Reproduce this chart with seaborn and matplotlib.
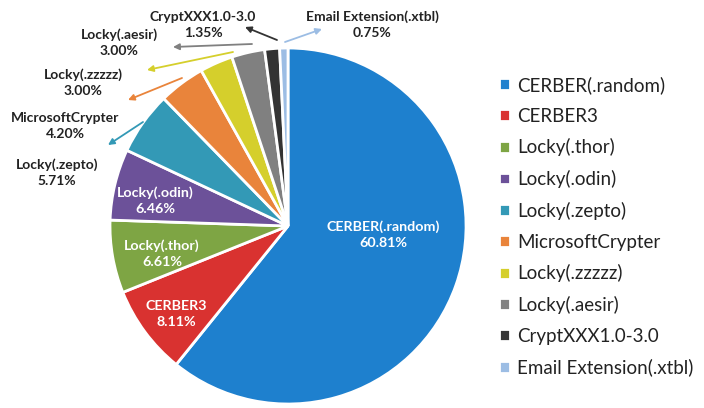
import matplotlib
matplotlib.use("Agg")
import matplotlib.pyplot as plt
import seaborn as sns

# ---- data ----
categories = ["CERBER(.random)", "CERBER3", "Locky(.thor)", "Locky(.odin)", "Locky(.zepto)",
              "MicrosoftCrypter", "Locky(.zzzzz)", "Locky(.aesir)", "CryptXXX1.0-3.0",
              "Email Extension(.xtbl)"]
values = [60.81, 8.11, 6.61, 6.46, 5.71, 4.20, 3.00, 3.00, 1.35, 0.75]
pct_labels = ["60.81%", "8.11%", "6.61%", "6.46%", "5.71%", "4.20%", "3.00%", "3.00%", "1.35%", "0.75%"]
colors = ["#1E80CE", "#D93230", "#7EA544", "#6C5199", "#3399B6",
          "#E9843B", "#D5CF2C", "#808080", "#333333", "#9CBDE4"]

sns.set_style("white")
plt.rcParams['font.family'] = ['Lato', 'DejaVu Sans']
palette = sns.color_palette(colors)

W, H = 704, 408
fig = plt.figure(figsize=(W / 100, H / 100), dpi=100)
ax = fig.add_axes([0, 0, 1, 1])

cx, cy, R = 288, H - 226, 178
explode = [9 / R] + [0] * (len(values) - 1)
wedges, _ = ax.pie(values, colors=palette, startangle=90, counterclock=False,
                   center=(cx, cy), radius=R, explode=explode,
                   wedgeprops=dict(edgecolor="white", linewidth=2))
ax.set_xlim(0, W)
ax.set_ylim(0, H)
ax.set_aspect("equal")
ax.axis("off")

def py(y):
    return H - y

# inner labels (white, bold)
inner_pos = {0: (383, 235), 1: (176, 314), 2: (162, 254), 3: (155, 201)}
for i, (x, y) in inner_pos.items():
    ax.text(x, py(y), f"{categories[i]}\n{pct_labels[i]}", ha="center", va="center",
            color="white", fontsize=10.3, fontweight="bold", linespacing=1.4)

# outside labels with arrows: (label centre, arrow tail, arrow head)
outside = {
    4: ((57, 173), (143, 122), (108, 145)),
    5: ((65, 126), (182, 78), (128, 100)),
    6: ((83, 83), (233, 52), (147, 70)),
    7: ((119, 43), (252, 44), (173, 47)),
    8: ((203, 25), (277, 40), (245, 27)),
    9: ((372, 25), (285, 42), (322, 29)),
}
for i, (lab, tail, head) in outside.items():
    ax.text(lab[0], py(lab[1]), f"{categories[i]}\n{pct_labels[i]}", ha="center", va="center",
            color="#222222", fontsize=10, fontweight="bold", linespacing=1.4)
    ax.annotate("", xy=(head[0], py(head[1])), xytext=(tail[0], py(tail[1])),
                arrowprops=dict(arrowstyle="-|>", color=palette[i], lw=1.3,
                                mutation_scale=9, shrinkA=0, shrinkB=0))

leg = ax.legend(wedges, categories, loc="upper left", bbox_to_anchor=(499 / W, 1 - 76 / H),
                bbox_transform=fig.transFigure, frameon=False, fontsize=13.5,
                handlelength=0.6, handleheight=0.6, handletextpad=0.35,
                labelspacing=0.73, borderaxespad=0, borderpad=0)
for t in leg.get_texts():
    t.set_color("#222222")

fig.savefig("out.png", dpi=100)
